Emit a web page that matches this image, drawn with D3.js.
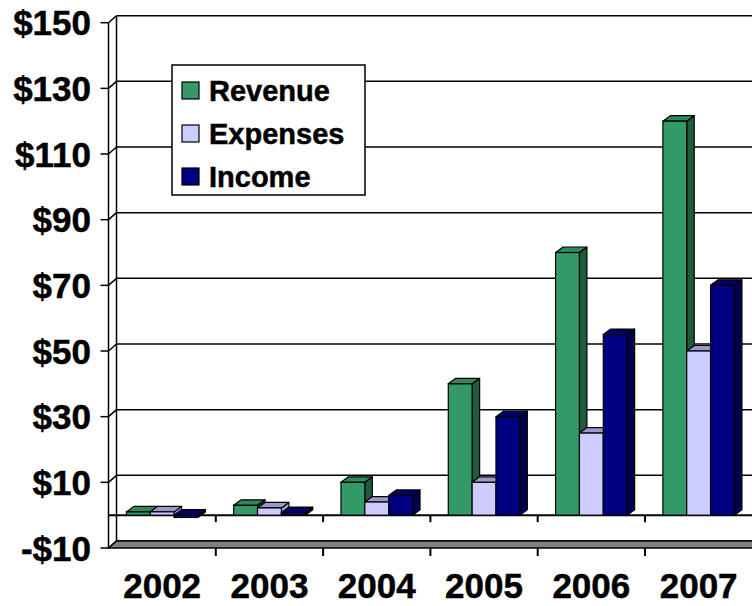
<!DOCTYPE html>
<html>
<head>
<meta charset="utf-8">
<script src="https://cdn.jsdelivr.net/npm/d3@7"></script>
<style>
  html, body { margin: 0; padding: 0; background: #ffffff; }
  svg { display: block; }
  text { font-family: "Liberation Sans", Arial, sans-serif; font-weight: bold; fill: #000; stroke: #000; stroke-width: 0.5px; }
</style>
</head>
<body>
<svg id="chart" width="752" height="606"></svg>
<script>
// ---- data ----
const years = ["2002", "2003", "2004", "2005", "2006", "2007"];
const seriesNames = ["Revenue", "Expenses", "Income"];
const revenue  = [1.0, 3.0, 10, 40, 80, 120];
const expenses = [1.0, 2.2, 4, 10, 25, 50];
const income   = [-0.7, 0.8, 6, 30, 55, 70];
const yTicks = [-10, 10, 30, 50, 70, 90, 110, 130, 150];

const seriesValues = [revenue, expenses, income];
const colors = {
  Revenue:  { front: "#339966", top: "#2e8a5c", side: "#1f5c3d" },
  Expenses: { front: "#ccccff", top: "#9999cc", side: "#a3a3d6" },
  Income:   { front: "#000080", top: "#000066", side: "#00004d" }
};

const svg = d3.select("#chart");

// ---- scales ----
const y = d3.scaleLinear().domain([-10, 150]).range([548, 22.7]);
const x = d3.scaleBand().domain(years).range([108.5, 752.3]).paddingInner(0).paddingOuter(0);
const xs = d3.scaleBand().domain(seriesNames).range([0, x.bandwidth()]).paddingInner(0).paddingOuter(0.75);

const wallDx = 8, wallDy = -7;   // wall depth
const barDx = 7.5, barDy = -5.5; // bar depth
const xLeft = 108.5, xRight = 752.3;

// ---- back wall gridlines ----
const grid = svg.append("g");
yTicks.forEach(v => {
  grid.append("line")
    .attr("x1", xLeft + wallDx).attr("x2", xRight + wallDx)
    .attr("y1", y(v) + wallDy).attr("y2", y(v) + wallDy)
    .attr("stroke", "#000").attr("stroke-width", 1.5);
  grid.append("line")
    .attr("x1", xLeft).attr("x2", xLeft + wallDx)
    .attr("y1", y(v)).attr("y2", y(v) + wallDy)
    .attr("stroke", "#000").attr("stroke-width", 1.5);
});
grid.append("line")
  .attr("x1", xLeft + wallDx).attr("x2", xLeft + wallDx)
  .attr("y1", y(150) + wallDy).attr("y2", y(-10) + wallDy)
  .attr("stroke", "#000").attr("stroke-width", 1.5);

// ---- floor ----
svg.append("path")
  .attr("d", `M${xLeft},${y(-10)} L${xLeft + wallDx},${y(-10) + wallDy} L${xRight + wallDx},${y(-10) + wallDy} L${xRight},${y(-10)} Z`)
  .attr("fill", "#808080").attr("stroke", "#000").attr("stroke-width", 1.5);

// ---- legend ----
const legend = svg.append("g");
legend.append("rect")
  .attr("x", 172).attr("y", 65).attr("width", 193).attr("height", 130)
  .attr("fill", "#fff").attr("stroke", "#000").attr("stroke-width", 1.5);
seriesNames.forEach((s, i) => {
  const yy = 82 + i * 43;
  legend.append("rect")
    .attr("x", 182).attr("y", yy).attr("width", 17).attr("height", 17)
    .attr("fill", colors[s].front).attr("stroke", "#000").attr("stroke-width", 1.2);
  legend.append("text")
    .attr("x", 209).attr("y", yy + 18.5)
    .attr("font-size", 29)
    .text(s);
});

// ---- zero line (category axis) ----
svg.append("line")
  .attr("x1", xLeft).attr("x2", xRight)
  .attr("y1", y(0)).attr("y2", y(0))
  .attr("stroke", "#000").attr("stroke-width", 2);

years.forEach((yr, i) => {
  if (i === 0) return;
  const bx = x(yr);
  svg.append("line").attr("x1", bx).attr("x2", bx)
    .attr("y1", y(0)).attr("y2", y(0) + 7)
    .attr("stroke", "#000").attr("stroke-width", 2);
  svg.append("line").attr("x1", bx).attr("x2", bx)
    .attr("y1", y(-10)).attr("y2", y(-10) + 8)
    .attr("stroke", "#000").attr("stroke-width", 2);
});

// ---- bars ----
const bars = svg.append("g");
years.forEach((yr, ci) => {
  seriesNames.forEach((s, si) => {
    const v = seriesValues[si][ci];
    const bx = x(yr) + xs(s);
    const w = xs.bandwidth();
    const yTop = y(Math.max(v, 0));
    const yBot = y(Math.min(v, 0));
    const c = colors[s];
    bars.append("path")
      .attr("d", `M${bx + w},${yTop} L${bx + w + barDx},${yTop + barDy} L${bx + w + barDx},${yBot + barDy} L${bx + w},${yBot} Z`)
      .attr("fill", c.side).attr("stroke", "#000").attr("stroke-width", 1.2).attr("stroke-linejoin", "round");
    bars.append("path")
      .attr("d", `M${bx},${yTop} L${bx + barDx},${yTop + barDy} L${bx + w + barDx},${yTop + barDy} L${bx + w},${yTop} Z`)
      .attr("fill", c.top).attr("stroke", "#000").attr("stroke-width", 1.2).attr("stroke-linejoin", "round");
    bars.append("rect")
      .attr("x", bx).attr("y", yTop).attr("width", w).attr("height", Math.max(yBot - yTop, 0.5))
      .attr("fill", c.front).attr("stroke", "#000").attr("stroke-width", 1.2);
  });
});

// ---- front value axis ----
svg.append("line")
  .attr("x1", xLeft).attr("x2", xLeft)
  .attr("y1", y(150)).attr("y2", y(-10))
  .attr("stroke", "#000").attr("stroke-width", 1.5);
const yAxisG = svg.append("g");
yTicks.forEach(v => {
  yAxisG.append("line")
    .attr("x1", xLeft - 8).attr("x2", xLeft)
    .attr("y1", y(v)).attr("y2", y(v))
    .attr("stroke", "#000").attr("stroke-width", 1.5);
  yAxisG.append("text")
    .attr("x", 91).attr("y", y(v)).attr("dy", "0.36em")
    .attr("text-anchor", "end").attr("font-size", 35)
    .text((v < 0 ? "-$" : "$") + Math.abs(v));
});

// ---- category labels ----
const xAxisG = svg.append("g");
years.forEach(yr => {
  xAxisG.append("text")
    .attr("x", x(yr) + x.bandwidth() / 2).attr("y", 598)
    .attr("text-anchor", "middle").attr("font-size", 35)
    .text(yr);
});
</script>
</body>
</html>
